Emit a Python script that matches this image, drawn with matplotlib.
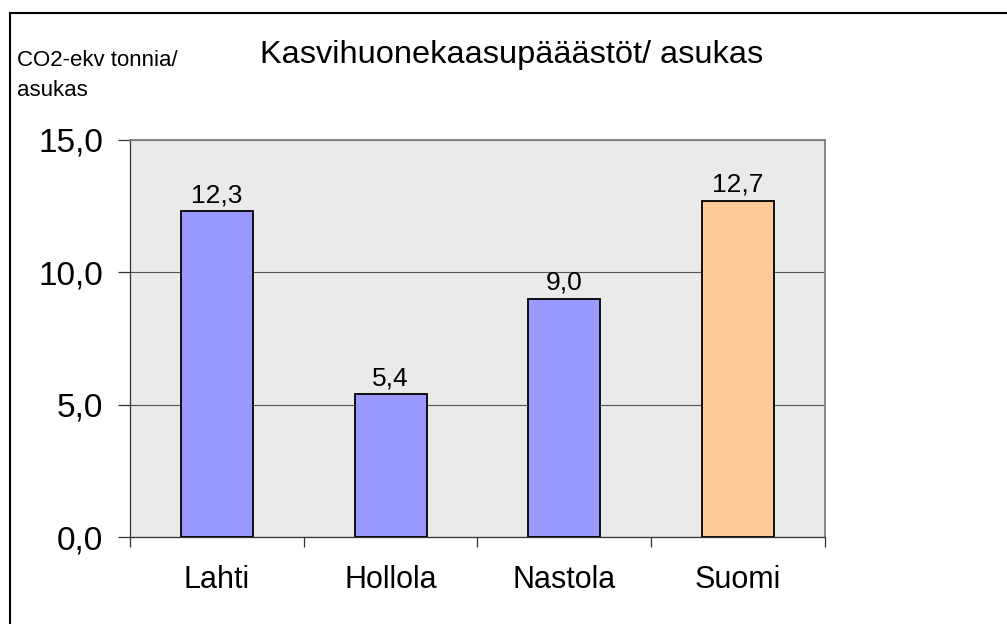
import matplotlib

matplotlib.use("Agg")

import matplotlib.pyplot as plt
from matplotlib.lines import Line2D

plt.rcParams["font.family"] = ["Liberation Sans", "DejaVu Sans"]

categories = ["Lahti", "Hollola", "Nastola", "Suomi"]
values = [12.3, 5.4, 9.0, 12.7]
bar_colors = ["#9999ff", "#9999ff", "#9999ff", "#ffcc99"]
yticks = [0.0, 5.0, 10.0, 15.0]

fig = plt.figure(figsize=(10.07, 6.24), dpi=100)
ax = fig.add_axes([130 / 1007, 1 - 537 / 624, 695 / 1007, 397 / 624])
ax.set_facecolor("#eaeaea")

x = list(range(len(categories)))
ax.bar(x, values, width=0.415, color=bar_colors, edgecolor="black", linewidth=1.3, zorder=3)

for xi, v in zip(x, values):
    ax.annotate(f"{v:.1f}".replace(".", ","), (xi, v), xytext=(0, 6.5), textcoords="offset points",
                ha="center", va="baseline", fontsize=19, zorder=4)

ax.set_xlim(-0.5, len(categories) - 0.5)
ax.set_ylim(0, 15)
ax.set_yticks(yticks)
ax.set_yticklabels([f"{t:.1f}".replace(".", ",") for t in yticks], fontsize=24)
ax.yaxis.grid(True, color="#555555", linewidth=0.8, zorder=1)
ax.set_axisbelow(True)

# category labels in the middle, tick marks on the boundaries
ax.set_xticks(x)
ax.set_xticklabels(categories, fontsize=22)
ax.tick_params(axis="x", length=0, pad=20)
ax.set_xticks([i - 0.5 for i in range(len(categories) + 1)], minor=True)
ax.tick_params(axis="x", which="minor", length=7.5, width=0.9, color="#333333", direction="out")
ax.tick_params(axis="y", length=8.5, width=0.9, color="#333333", pad=11)

for side in ["top", "right"]:
    ax.spines[side].set_color("#808080")
    ax.spines[side].set_linewidth(1.3)
ax.spines["left"].set_color("#333333")
ax.spines["bottom"].set_color("#333333")
ax.spines["left"].set_linewidth(0.9)
ax.spines["bottom"].set_linewidth(0.9)

fig.text(512 / 1007, 1 - 63 / 624, "Kasvihuonekaasupääästöt/ asukas", ha="center", va="baseline", fontsize=23.4)
fig.text(17 / 1007, 1 - 66 / 624, "CO2-ekv tonnia/", ha="left", va="baseline", fontsize=16)
fig.text(17 / 1007, 1 - 96 / 624, "asukas", ha="left", va="baseline", fontsize=16)

# outer frame (only top and left edges visible)
fig.add_artist(Line2D([10 / 1007, 1], [1 - 13 / 624, 1 - 13 / 624], transform=fig.transFigure, color="black", linewidth=1.5))
fig.add_artist(Line2D([10 / 1007, 10 / 1007], [0, 1 - 13 / 624], transform=fig.transFigure, color="black", linewidth=1.5))

fig.savefig("out.png", dpi=100)
plt.close(fig)
